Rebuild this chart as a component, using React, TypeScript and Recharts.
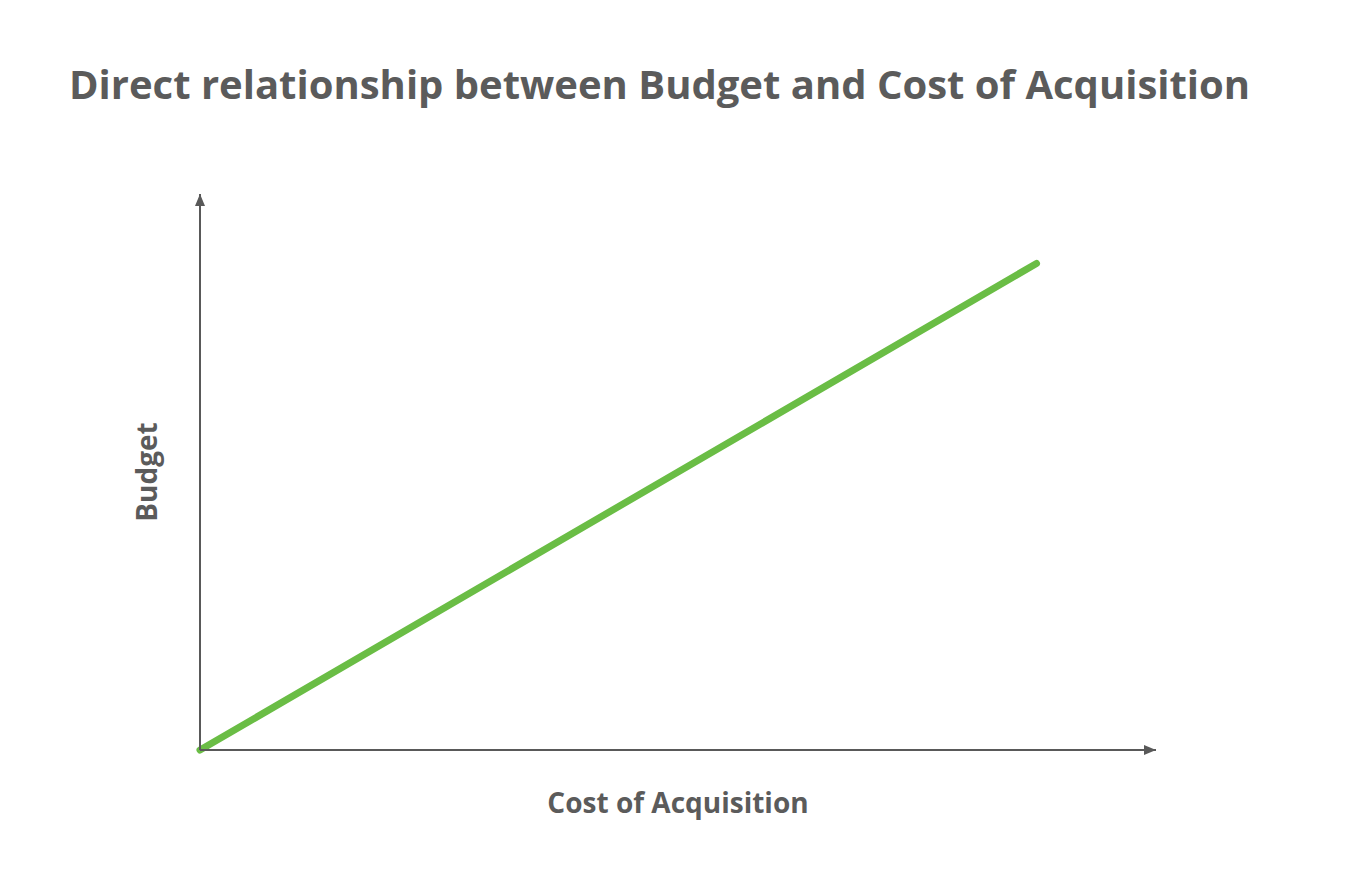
import React from 'react';
import { LineChart, Line, XAxis, YAxis, Label, Customized } from 'recharts';

const costOfAcquisition = [0, 87.5];
const budget = [0, 87.5];
const titleText = 'Direct relationship between Budget and Cost of Acquisition';
const xLabel = 'Cost of Acquisition';
const yLabel = 'Budget';

const data = costOfAcquisition.map((c, i) => ({ cost: c, budget: budget[i] }));

const TEXT = '#5b5b5b';
const AXIS = '#595959';
const GREEN = '#6abd45';
const FONT = '"Open Sans", sans-serif';

const Defs = () => (
  <g>
    <defs>
      <marker id="arrowEnd" viewBox="0 0 12 10" refX="12" refY="5" markerWidth="12" markerHeight="10" markerUnits="userSpaceOnUse" orient="auto-start-reverse">
        <path d="M0,0 L12,5 L0,10 z" fill={AXIS} />
      </marker>
    </defs>
    <text x={69} y={99} fontFamily={FONT} fontWeight={700} fontSize={40} fill={TEXT}>
      {titleText}
    </text>
  </g>
);

export default function App() {
  return (
    <div style={{ position: 'absolute', left: 0, top: 0, width: 1358, height: 896, background: '#fff' }}>
      <LineChart width={1358} height={896} data={data} margin={{ top: 194, right: 202, bottom: 0, left: 0 }}>
        <Customized component={Defs} />
        <XAxis
          dataKey="cost"
          type="number"
          domain={[0, 100]}
          height={146}
          tick={false}
          tickLine={false}
          axisLine={{ stroke: AXIS, strokeWidth: 2, markerEnd: 'url(#arrowEnd)' }}
        >
          <Label
            content={(props: any) => {
              const vb = props.viewBox;
              return (
                <text x={vb.x + vb.width / 2} y={vb.y + 63} textAnchor="middle" fontFamily={FONT} fontWeight={700} fontSize={28} fill={TEXT}>
                  {xLabel}
                </text>
              );
            }}
          />
        </XAxis>
        <YAxis
          type="number"
          domain={[0, 100]}
          width={200}
          tick={false}
          tickLine={false}
          axisLine={{ stroke: AXIS, strokeWidth: 2, markerStart: 'url(#arrowEnd)' }}
        >
          <Label
            content={(props: any) => {
              const vb = props.viewBox;
              const x = vb.x + vb.width - 43;
              const y = vb.y + vb.height / 2;
              return (
                <text x={x} y={y} transform={`rotate(-90 ${x} ${y})`} textAnchor="middle" fontFamily={FONT} fontWeight={700} fontSize={28} fill={TEXT}>
                  {yLabel}
                </text>
              );
            }}
          />
        </YAxis>
        <Line
          dataKey="budget"
          type="linear"
          stroke={GREEN}
          strokeWidth={7}
          strokeLinecap="round"
          dot={false}
          activeDot={false}
          isAnimationActive={false}
        />
      </LineChart>
    </div>
  );
}
